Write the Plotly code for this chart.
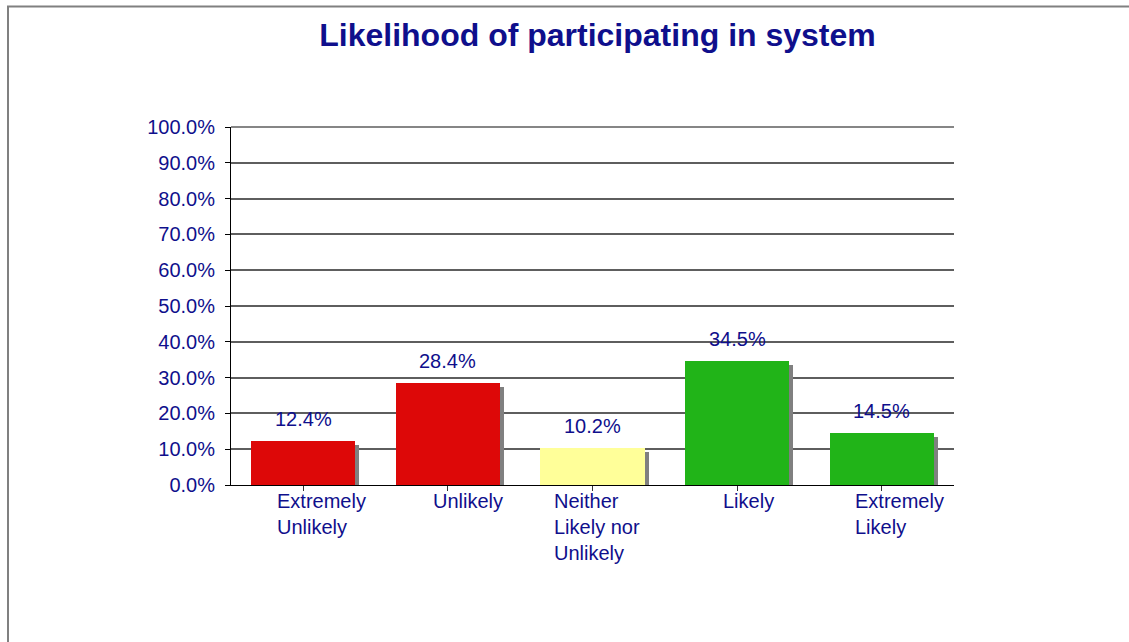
import plotly.graph_objects as go

# Survey responses: share of respondents per answer
categories = ["Extremely Unlikely", "Unlikely", "Neither Likely nor Unlikely", "Likely", "Extremely Likely"]
label_lines = ["Extremely<br>Unlikely", "Unlikely", "Neither<br>Likely nor<br>Unlikely", "Likely", "Extremely<br>Likely"]
shares = [0.124, 0.284, 0.102, 0.345, 0.145]
bar_colors = ["#DD0808", "#DD0808", "#FFFF99", "#21B418", "#21B418"]

NAVY = "#0F0F8C"
FONT = "Liberation Sans, Arial, sans-serif"
GRID = "#5E5E5E"

W, H = 1129, 642
ML, MR, MT, MB = 231, 175, 127, 157
plot_w = W - ML - MR
plot_h = H - MT - MB

bar_w = 0.72
# drop shadow offset, in pixels
sh_dx, sh_dy = 4, 4
dx_units = sh_dx / (plot_w / len(categories))
dy_units = sh_dy / plot_h

fig = go.Figure()

fig.add_trace(go.Bar(
    x=list(range(len(categories))),
    y=[v - dy_units for v in shares],
    width=bar_w,
    offset=-bar_w / 2 + dx_units,
    marker=dict(color="#808080", line=dict(width=0)),
    hoverinfo="skip",
    showlegend=False,
))

fig.add_trace(go.Bar(
    x=list(range(len(categories))),
    y=shares,
    width=bar_w,
    offset=-bar_w / 2,
    marker=dict(color=bar_colors, line=dict(width=0)),
    customdata=categories,
    hovertemplate="%{customdata}: %{y:.1%}<extra></extra>",
    showlegend=False,
))

annotations = []
for i, v in enumerate(shares):
    annotations.append(dict(
        x=i, y=v, xref="x", yref="y",
        text=f"{v:.1%}", showarrow=False,
        xanchor="center", yanchor="middle", yshift=22,
        font=dict(family=FONT, size=20, color=NAVY),
    ))

# category labels, left-aligned blocks under each bar
label_dx = [18, 20, 4, 11, 18]
for i, txt in enumerate(label_lines):
    annotations.append(dict(
        x=i, y=0, xref="x", yref="y",
        text=txt, showarrow=False,
        xanchor="center", yanchor="top", align="left",
        xshift=label_dx[i], yshift=-3,
        font=dict(family=FONT, size=20, color=NAVY),
    ))

fig.update_layout(
    width=W, height=H,
    margin=dict(l=ML, r=MR, t=MT, b=MB),
    paper_bgcolor="white",
    plot_bgcolor="white",
    barmode="overlay",
    bargap=0,
    title=dict(
        text="<b>Likelihood of participating in system</b>",
        font=dict(family=FONT, size=32, color=NAVY),
        xref="paper", x=(597.5 - ML) / plot_w, xanchor="center",
        yref="container", y=1 - 35 / H, yanchor="middle",
    ),
    xaxis=dict(
        range=[-0.5, len(categories) - 0.5],
        tickmode="array",
        tickvals=list(range(len(categories))),
        showticklabels=False,
        tickson="boundaries",
        ticks="outside", ticklen=5, tickcolor="#333333", tickwidth=1,
        showline=True, linecolor="#000000", linewidth=1,
        showgrid=False, zeroline=False,
    ),
    yaxis=dict(
        range=[0, 1],
        dtick=0.1,
        tickformat=".1%",
        ticks="outside", ticklen=5, tickcolor="#000000", tickwidth=1,
        ticklabelstandoff=6,
        tickfont=dict(family=FONT, size=20, color=NAVY),
        showline=True, linecolor="#000000", linewidth=1,
        showgrid=True, gridcolor=GRID, gridwidth=1.5,
        zeroline=False,
    ),
    annotations=annotations,
    shapes=[
        # outer chart frame
        dict(
            type="rect", xref="paper", yref="paper",
            x0=(8 - ML) / plot_w, x1=1.4,
            y0=-0.6, y1=(H - MB - 6.5) / plot_h,
            line=dict(color="#808080", width=2),
            fillcolor="rgba(0,0,0,0)", layer="below",
        ),
        # top gridline at the upper edge of the value axis
        dict(
            type="line", xref="paper", yref="paper",
            x0=0, x1=1, y0=1, y1=1,
            line=dict(color=GRID, width=1.5),
            layer="below",
        ),
    ],
)

fig.write_html("out.html")
